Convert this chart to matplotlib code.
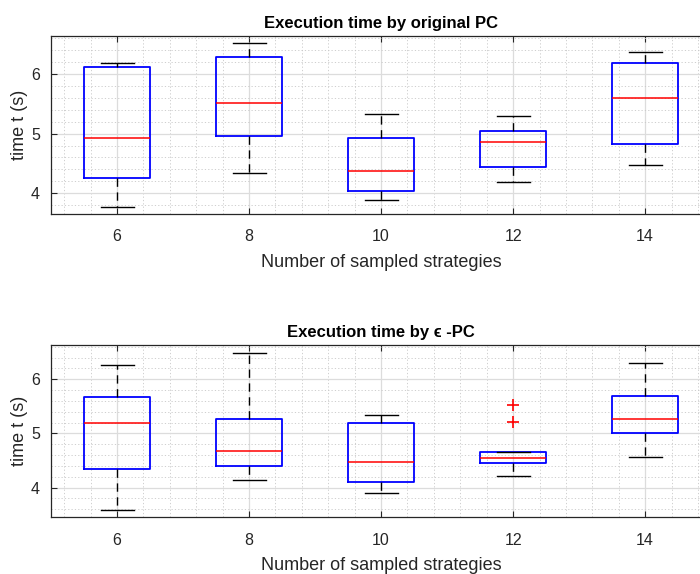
import matplotlib
matplotlib.use("Agg")
import matplotlib.pyplot as plt
from matplotlib.ticker import MultipleLocator

plt.rcParams["font.family"] = ["Liberation Sans", "DejaVu Sans"]

# x positions: number of sampled strategies
strategies = [6, 8, 10, 12, 14]

# top panel: original PC (lower whisker, q1, median, q3, upper whisker)
orig_low = [3.76, 4.34, 3.88, 4.18, 4.47]
orig_q1 = [4.25, 4.96, 4.03, 4.44, 4.83]
orig_med = [4.93, 5.52, 4.38, 4.86, 5.60]
orig_q3 = [6.12, 6.29, 4.92, 5.04, 6.18]
orig_high = [6.18, 6.52, 5.33, 5.29, 6.38]
orig_fliers = [[], [], [], [], []]

# bottom panel: epsilon-PC
eps_low = [3.58, 4.13, 3.90, 4.22, 4.57]
eps_q1 = [4.34, 4.39, 4.10, 4.46, 5.00]
eps_med = [5.19, 4.67, 4.48, 4.54, 5.27]
eps_q3 = [5.67, 5.27, 5.19, 4.65, 5.69]
eps_high = [6.26, 6.49, 5.34, 4.65, 6.30]
eps_fliers = [[], [], [], [5.53, 5.21], []]

TXT = "#262626"


def make_stats(low, q1, med, q3, high, fliers):
    return [
        {"whislo": lo, "q1": a, "med": m, "q3": b, "whishi": hi, "fliers": f}
        for lo, a, m, b, hi, f in zip(low, q1, med, q3, high, fliers)
    ]


def draw_panel(ax, stats, title, ylim):
    ax.bxp(
        stats,
        positions=strategies,
        widths=1.0,
        capwidths=0.5,
        boxprops=dict(color="#0000ff", lw=1.3),
        medianprops=dict(color="#ff0000", lw=1.1),
        whiskerprops=dict(color="black", lw=1.0, ls=(0, (6, 4))),
        capprops=dict(color="black", lw=1.0),
        flierprops=dict(marker="+", markeredgecolor="#ff0000", markersize=9, mew=1.2, ls="none"),
        manage_ticks=False,
        zorder=3,
    )
    ax.set_xlim(5, 15)
    ax.set_ylim(*ylim)
    ax.xaxis.set_major_locator(MultipleLocator(2))
    ax.xaxis.set_minor_locator(MultipleLocator(0.4))
    ax.yaxis.set_major_locator(MultipleLocator(1))
    ax.yaxis.set_minor_locator(MultipleLocator(0.2))
    ax.grid(True, which="major", color="#dcdcdc", lw=0.9, zorder=0)
    ax.grid(True, which="minor", color="#c8c8c8", lw=0.6, ls=(0, (1.5, 2.5)), zorder=0)
    ax.set_axisbelow(True)
    ax.tick_params(which="major", direction="in", length=4, top=True, right=True,
                   labelsize=11.5, colors=TXT)
    ax.tick_params(axis="x", which="major", pad=11)
    ax.tick_params(axis="y", which="major", pad=8)
    ax.tick_params(which="minor", length=0)
    for sp in ax.spines.values():
        sp.set_color(TXT)
        sp.set_linewidth(0.9)
    ax.set_title(title, fontsize=12, fontweight="bold", color="black", pad=6)
    ax.set_xlabel("Number of sampled strategies", fontsize=13, color=TXT, labelpad=7)
    ax.set_ylabel("time t (s)", fontsize=13, color=TXT, labelpad=2)


fig = plt.figure(figsize=(7.0, 5.74), dpi=100)
ax1 = fig.add_axes([0.0729, 0.6272, 0.943, 0.310])
ax2 = fig.add_axes([0.0729, 0.0988, 0.943, 0.300])

draw_panel(ax1, make_stats(orig_low, orig_q1, orig_med, orig_q3, orig_high, orig_fliers),
           "Execution time by original PC", (3.65, 6.64))
draw_panel(ax2, make_stats(eps_low, eps_q1, eps_med, eps_q3, eps_high, eps_fliers),
           "Execution time by \u03f5 -PC", (3.45, 6.63))

fig.savefig("out.png", dpi=100, facecolor="white")
